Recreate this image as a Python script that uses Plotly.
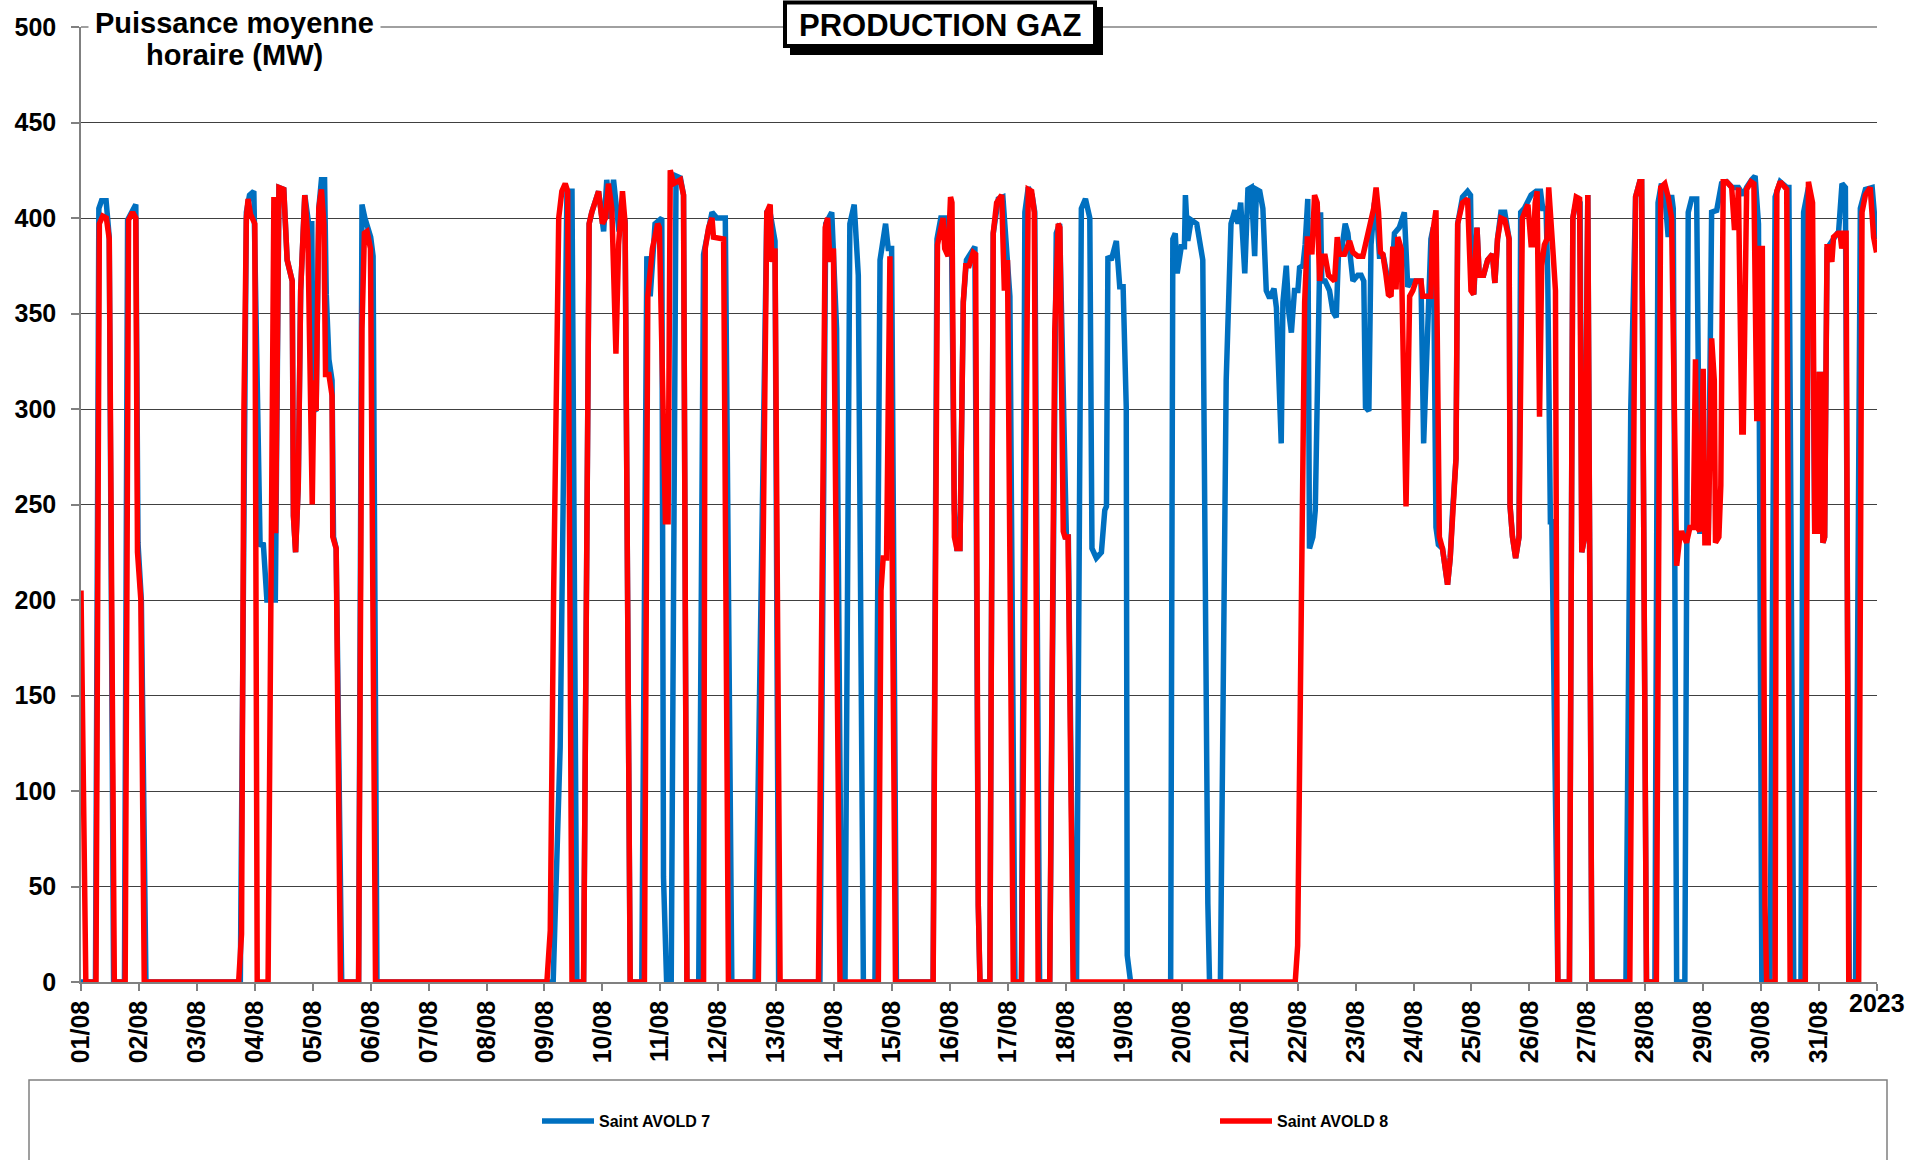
import pandas as pd
import plotly.graph_objects as go

START = pd.Timestamp("2023-08-01 00:00")

# (hours since 01/08 00:00, MW)
avold7_points = [
    (0, 0), (6, 0), (7.4, 405), (8.5, 409), (10.4, 409), (11.7, 390), (13.5, 0),
    (18, 0), (19.3, 399), (22.7, 407), (23.6, 230), (25, 200), (26.9, 0),
    (66, 0), (68.5, 403), (69.8, 412), (71.6, 414), (73, 300), (74.2, 228), (75.5, 230), (77, 200),
    (80.5, 200), (82, 416), (84, 415), (85.4, 378), (87.5, 367), (88, 244), (88.9, 225), (90, 260),
    (91, 362), (92.7, 412), (94.3, 397), (95.6, 397), (96.2, 300), (97.4, 299), (98.5, 405),
    (99.6, 420), (100.9, 420), (101.6, 360), (102.7, 326), (104, 315), (104.6, 233), (105.7, 227), (108, 0),
    (115, 0), (116.4, 407), (117.6, 400), (120, 390), (121, 380), (122.6, 0),
    (195.6, 0), (198.5, 123), (201.3, 414), (203.4, 414), (205.4, 0),
    (208.2, 0), (209.6, 315), (210.5, 397), (211.6, 403), (214.4, 414), (216.5, 393), (217.8, 420),
    (219.2, 400), (220.6, 420), (222.7, 395), (225.4, 397), (227.5, 0),
    (232.3, 0), (234.4, 380), (235.8, 359), (237.8, 397), (240.6, 400), (241.3, 55), (242.6, 0),
    (244.5, 0), (246.5, 422), (248.3, 421), (249.6, 412), (251, 0),
    (255.9, 0), (257.9, 381), (261.4, 403), (263.4, 400), (266.9, 400), (269.6, 0),
    (279.3, 0), (284.1, 403), (285.3, 404), (287.5, 388), (289, 0),
    (306.1, 0), (308.5, 397), (311, 403), (313, 342), (315.1, 0),
    (316.5, 0), (318.5, 397), (320.3, 407), (322, 370), (324.1, 0),
    (328.9, 0), (331, 378), (333.3, 397), (334.4, 384), (335.8, 384), (337.8, 0),
    (353, 0), (354.6, 389), (356.2, 400), (358, 400), (359.6, 380), (360.6, 390), (361.8, 247),
    (362.8, 227), (364.1, 227), (365.5, 356), (366.8, 378), (370.3, 385), (371.7, 40), (372.4, 0),
    (376.5, 0), (377.9, 392), (380, 410), (381.9, 411), (384.8, 359), (386.9, 0),
    (389.6, 0), (391, 403), (392.4, 416), (394, 412), (395.1, 403), (397.1, 0),
    (401.3, 0), (404, 392), (405.4, 397), (406.9, 300), (408.2, 233), (409, 233), (411.2, 0),
    (412.4, 0), (414.4, 405), (416.1, 410), (417.9, 400), (418.8, 227), (420.6, 222), (422.7, 225),
    (424.1, 247), (424.8, 249), (425.4, 380), (426.8, 378), (428.9, 388), (430.3, 364), (431.7, 364),
    (433, 301), (433.4, 14), (434.8, 0),
    (451.4, 0), (452.3, 389), (453.3, 392), (454.1, 371), (455.8, 385), (457.1, 385), (457.5, 412),
    (458.5, 388), (459.9, 399), (462.2, 397), (464.7, 378), (466.8, 41), (467.5, 0),
    (472, 0), (474.4, 315), (476.4, 397), (478, 404), (479.3, 397), (480.4, 408), (482.1, 371),
    (483.4, 415), (484.8, 416), (486.2, 380), (486.9, 415), (488.3, 414), (489.6, 405), (491, 362),
    (492.4, 358), (494.2, 363), (495.2, 353), (496.1, 315), (497.2, 282), (497.9, 356), (499.3, 375),
    (500.3, 351), (501.4, 340), (502.7, 362), (504.1, 362), (504.8, 374), (506.2, 375), (507.1, 386),
    (508.2, 410), (508.9, 227), (510.3, 233), (511.3, 247), (512.4, 342), (513.5, 403), (514, 367),
    (515.4, 367), (517.2, 362), (518.6, 351), (520, 348), (520.9, 381), (522, 381), (523.7, 397),
    (524.8, 392), (526.9, 367), (528.9, 370), (530.3, 370), (531.4, 367), (532.1, 301), (533.5, 299),
    (534.4, 386), (535.8, 408), (536.9, 400), (537.9, 380), (539.5, 380), (541, 370), (542.7, 362),
    (544.1, 392), (546.1, 395), (548.2, 403), (549.6, 364), (551, 367), (555.1, 367), (556.2, 282),
    (557.2, 315), (558.1, 359), (559.2, 389), (560.2, 395), (561.3, 238), (562.3, 229), (564, 227),
    (566.1, 208), (567.2, 222), (568.2, 247), (569.6, 274), (570.3, 397), (572.3, 411), (574.4, 414),
    (575.6, 412), (576.2, 362), (577, 360), (578.3, 395), (579.2, 370), (581, 370), (582.7, 378),
    (584.7, 381), (585.7, 366), (586.8, 389), (588.2, 403), (589.8, 403), (591.6, 389), (592, 249),
    (593, 233), (594.3, 222), (595.7, 233), (596.4, 403), (597.9, 405), (600.7, 412), (602.8, 414),
    (604.6, 414), (605.5, 405), (606.9, 405), (607.6, 370), (608.7, 241), (609.3, 241), (611.8, 0),
    (616.6, 0), (618, 400), (619.8, 411), (621, 408), (621.7, 225), (622.9, 233), (624.2, 412), (625.9, 0),
    (640, 0), (642, 300), (644, 411), (645.7, 419), (646.5, 419), (648.5, 0),
    (652, 0), (653.3, 408), (654.7, 418), (656.1, 412), (657.5, 390), (658.9, 412), (659.6, 405), (661, 0),
    (664.4, 0), (665.8, 403), (667.2, 410), (669.3, 410), (670.6, 236), (672.7, 236), (674.1, 233),
    (675.5, 403), (677.6, 404), (679.6, 418), (681.7, 419), (684, 416), (686.6, 416), (688.6, 412),
    (690, 416), (692.1, 420), (693.5, 422), (694.9, 397), (696.3, 0),
    (699.7, 0), (701.8, 411), (703.9, 419), (706.6, 416), (707.5, 416), (709.5, 0),
    (712.5, 0), (713.6, 403), (715.6, 416), (717, 408), (718.2, 236), (719.5, 236), (720.1, 318),
    (720.8, 318), (721.6, 230), (722.3, 233), (723.3, 384), (726.2, 389), (728.1, 393), (729.5, 418),
    (730.9, 416), (732.5, 0),
    (735.1, 0), (737.1, 405), (739.2, 415), (742, 416), (743.8, 389),
]

avold8_points = [
    (0, 205), (1.5, 10), (2, 0), (6.2, 0), (7.6, 397), (9, 401), (10.5, 400), (11.7, 389), (13.2, 15), (13.8, 0),
    (18.3, 0), (19.7, 399), (21.4, 403), (22.7, 400), (23.4, 225), (24.8, 200), (26.2, 0),
    (65.3, 0), (66.5, 25), (67.5, 300), (68.5, 400), (69.2, 410), (70.2, 402), (72, 397), (73, 0),
    (77.5, 0), (79.9, 411), (80.6, 235), (82, 416), (84, 415), (85.4, 378), (87.5, 367), (88, 244),
    (88.9, 225), (90, 260), (91, 362), (92.7, 412), (94, 389), (95.8, 250), (96.5, 315), (97.4, 299),
    (98.5, 405), (99.6, 415), (100.6, 397), (101.3, 318), (102.7, 318), (104, 307), (104.3, 233),
    (105.7, 227), (107.5, 0),
    (115, 0), (116.4, 342), (117.4, 392), (118.5, 393), (119.9, 384), (122, 0),
    (193, 0), (194.4, 27), (195.8, 205), (197.2, 356), (197.9, 400), (199.2, 414), (200.6, 418),
    (201.6, 414), (203.4, 0),
    (208.2, 0), (209.6, 315), (210.5, 397), (211.6, 403), (214.4, 414), (216, 397), (217.3, 400),
    (218.5, 418), (219.9, 405), (221.6, 329), (222.7, 386), (224.3, 414), (225.4, 397), (227.5, 0),
    (233.4, 0), (234.8, 359), (236.7, 384), (238.9, 397), (239.6, 395), (242.1, 241), (243.2, 241),
    (244.1, 425), (245.5, 418), (248.3, 420), (249.6, 412), (251, 0),
    (257.9, 0), (258.6, 384), (260, 395), (261.4, 400), (262, 390), (266.2, 389), (268.2, 0),
    (280.6, 0), (284.1, 403), (285.5, 407), (286.2, 377), (287.5, 384), (289.6, 0),
    (305.5, 0), (308.3, 395), (309.3, 400), (310.3, 377), (311.7, 384), (314.4, 0),
    (330.3, 0), (331.4, 205), (332.3, 222), (333.7, 222), (335.1, 380), (337.4, 0),
    (353, 0), (354.8, 386), (357.1, 400), (357.8, 384), (359.2, 380), (360.2, 411), (360.8, 408),
    (361.8, 233), (362.8, 227), (364.1, 227), (365.5, 356), (366.5, 375), (367.9, 375), (369.6, 382),
    (370.6, 381), (371.7, 40), (372.4, 0),
    (376.5, 0), (377.9, 392), (379.3, 408), (381.4, 412), (382.5, 362), (383.8, 378), (386.2, 0),
    (389.6, 0), (392.4, 415), (393.8, 414), (394.9, 403), (396.5, 0),
    (401.3, 0), (403.4, 342), (404.8, 397), (405.5, 395), (406.9, 236), (407.6, 233), (408.9, 233), (411, 0),
    (503, 0), (504, 19), (505.5, 205), (506.9, 356), (508, 389), (508.9, 389), (509.9, 381), (511, 412),
    (512.1, 408), (513.1, 367), (514, 380), (515.4, 380), (516.8, 370), (518.6, 367), (519.3, 367),
    (520.4, 390), (521.3, 381), (523.4, 381), (525.5, 388), (526.9, 382), (528.9, 380), (531, 380),
    (532.4, 388), (534.4, 399), (535.5, 405), (536.5, 416), (537.5, 403), (538.3, 382), (539.3, 381),
    (540.6, 370), (541.6, 360), (542.7, 359), (543.4, 385), (544.1, 364), (544.8, 364), (545.5, 390),
    (546.9, 384), (548.9, 249), (550.4, 359), (551.7, 362), (553, 367), (555.1, 367), (555.8, 359),
    (559.2, 359), (559.9, 392), (561.3, 404), (562.7, 233), (564, 227), (566.1, 208), (567.2, 222),
    (568.2, 247), (569.6, 274), (570.3, 397), (572.3, 408), (574.4, 410), (575.8, 362), (576.9, 360),
    (578.3, 395), (579.2, 370), (581, 370), (582.7, 378), (584.7, 381), (585.7, 366), (586.8, 389),
    (588.2, 400), (589.8, 399), (591.6, 389), (592, 249), (593, 233), (594.3, 222), (595.7, 233),
    (597.1, 400), (599.4, 407), (600.7, 386), (601.7, 386), (602.4, 408), (603.2, 414), (604.2, 296),
    (605.1, 375), (606.2, 386), (607.3, 389), (608, 416), (609.7, 384), (610.8, 362), (611.8, 0),
    (616.6, 0), (618, 400), (619.4, 411), (620.8, 410), (621.7, 225), (622.9, 233), (624.2, 412), (625.9, 0),
    (641.6, 0), (644, 411), (645.7, 419), (646.5, 419), (648.5, 0),
    (652.6, 0), (654.4, 416), (656.1, 418), (657.5, 411), (658.9, 400), (661, 218), (662.3, 233),
    (663, 236), (665.1, 230), (666.5, 238), (667.9, 238), (668.8, 326), (669.5, 238), (670.6, 236),
    (672, 321), (672.7, 230), (674.1, 230), (675.5, 337), (676.6, 315), (677.1, 230), (678.5, 233),
    (679.3, 260), (680.3, 419), (681.7, 419), (683.8, 416), (684.9, 395), (685.8, 395), (686.6, 416),
    (688, 288), (688.6, 288), (690, 415), (691.8, 419), (693, 418), (694.2, 295), (694.9, 295),
    (695.6, 384), (696.5, 384), (697.6, 40), (698.3, 0),
    (701.8, 0), (702.5, 414), (703.9, 419), (706.6, 415), (708, 0),
    (714.3, 0), (715.6, 419), (717.3, 408), (718.2, 236), (719.5, 236), (720.1, 318), (720.8, 318),
    (721.6, 230), (722.3, 233), (723.3, 385), (724.2, 385), (725.3, 377), (726, 390), (727.8, 392),
    (728.7, 392), (729.4, 384), (730.3, 392), (731.2, 392), (732.3, 0),
    (736.4, 0), (737.8, 403), (739.2, 412), (741.2, 416), (742.6, 390), (743.8, 382),
]

tick_dates = ["2023-08-%02d" % d for d in range(1, 32)] + ["2023-09-01"]
tick_labels = ["01/08", "02/08", "03/08", "04/08", "05/08", "06/08", "07/08", "08/08",
               "09/08", "10/08", "11/08", "12/08", "13/08", "14/08", "15/08", "16/08",
               "17/08", "18/08", "19/08", "20/08", "21/08", "22/08", "23/08", "24/08",
               "25/08", "26/08", "27/08", "28/08", "29/08", "30/08", "31/08", ""]
y_ticks = [0, 50, 100, 150, 200, 250, 300, 350, 400, 450, 500]

series = [("Saint AVOLD 7", avold7_points, "#0070C0", "legend"),
          ("Saint AVOLD 8", avold8_points, "#FF0000", "legend2")]

FONT = "Liberation Sans, Arial, sans-serif"
W, H = 1909, 1160
L, R, T, B = 81, 1877, 27, 982   # plot area in pixels


def px(xp):
    return (xp - L) / (R - L)


def py(yp):
    return (B - yp) / (B - T)


fig = go.Figure()
for name, pts, color, leg in series:
    xs = [START + pd.Timedelta(hours=h) for h, _ in pts]
    ys = [v for _, v in pts]
    fig.add_trace(go.Scatter(x=xs, y=ys, mode="lines", name=name, legend=leg,
                             line=dict(color=color, width=5.5)))

shapes = [
    # top line at 500 in gray
    dict(type="line", xref="paper", yref="paper", x0=0, x1=1, y0=1, y1=1,
         line=dict(color="#808080", width=1.5), layer="above"),
    # title shadow and box
    dict(type="rect", xref="paper", yref="paper", x0=px(790), x1=px(1103), y0=py(55), y1=py(7),
         fillcolor="black", line=dict(width=0), layer="above"),
    dict(type="rect", xref="paper", yref="paper", x0=px(785), x1=px(1095), y0=py(46), y1=py(2.5),
         fillcolor="white", line=dict(color="black", width=4), layer="above"),
    # legend frame
    dict(type="rect", xref="paper", yref="paper", x0=px(29), x1=px(1887), y0=py(1170), y1=py(1080),
         fillcolor="rgba(0,0,0,0)", line=dict(color="#808080", width=1.5), layer="below"),
]

annotations = [
    dict(text="<b>PRODUCTION GAZ</b>", xref="paper", yref="paper", x=px(940), y=py(25),
         xanchor="center", yanchor="middle", showarrow=False,
         font=dict(family=FONT, size=31, color="black")),
    dict(text="<b>Puissance moyenne</b>", xref="paper", yref="paper", x=px(234), y=py(23),
         xanchor="center", yanchor="middle", showarrow=False, bgcolor="white", borderpad=6,
         font=dict(family=FONT, size=29, color="black")),
    dict(text="<b>horaire (MW)</b>", xref="paper", yref="paper", x=px(234), y=py(55),
         xanchor="center", yanchor="middle", showarrow=False,
         font=dict(family=FONT, size=29, color="black")),
    dict(text="<b>2023</b>", xref="paper", yref="paper", x=1.0, y=py(1003),
         xanchor="center", yanchor="middle", showarrow=False,
         font=dict(family=FONT, size=25, color="black")),
]

fig.update_layout(
    width=W, height=H,
    margin=dict(l=L, r=W - R, t=T, b=H - B, autoexpand=False),
    paper_bgcolor="white", plot_bgcolor="white",
    font=dict(family=FONT, color="black"),
    shapes=shapes, annotations=annotations,
    legend=dict(orientation="h", x=px(537), y=py(1121), xanchor="left", yanchor="middle",
                itemwidth=52,
                font=dict(family=FONT, size=16, color="black", weight="bold"),
                bgcolor="rgba(0,0,0,0)", borderwidth=0),
    legend2=dict(orientation="h", x=px(1215), y=py(1121), xanchor="left", yanchor="middle",
                 itemwidth=52,
                 font=dict(family=FONT, size=16, color="black", weight="bold"),
                 bgcolor="rgba(0,0,0,0)", borderwidth=0),
    showlegend=True,
)

fig.update_xaxes(
    type="date", range=["2023-08-01", "2023-09-01"],
    tickmode="array", tickvals=tick_dates, ticktext=tick_labels,
    tickangle=-90, ticks="outside", ticklen=7, tickcolor="#808080", tickwidth=1.5,
    tickfont=dict(family=FONT, size=25, color="black", weight="bold"),
    showline=True, linecolor="#808080", linewidth=1.5,
    showgrid=False, zeroline=False, automargin=False,
)
fig.update_yaxes(
    range=[0, 500], tickmode="array", tickvals=y_ticks,
    ticks="outside", ticklen=8, tickcolor="#808080", tickwidth=1.5,
    ticklabelstandoff=10,
    tickfont=dict(family=FONT, size=25, color="black", weight="bold"),
    showline=True, linecolor="#808080", linewidth=1.5,
    showgrid=True, gridcolor="#404040", gridwidth=1, zeroline=False, automargin=False,
)

fig.write_html("out.html", config={"displayModeBar": False},
               post_script="document.body.style.margin='0';document.body.style.overflow='hidden';")
